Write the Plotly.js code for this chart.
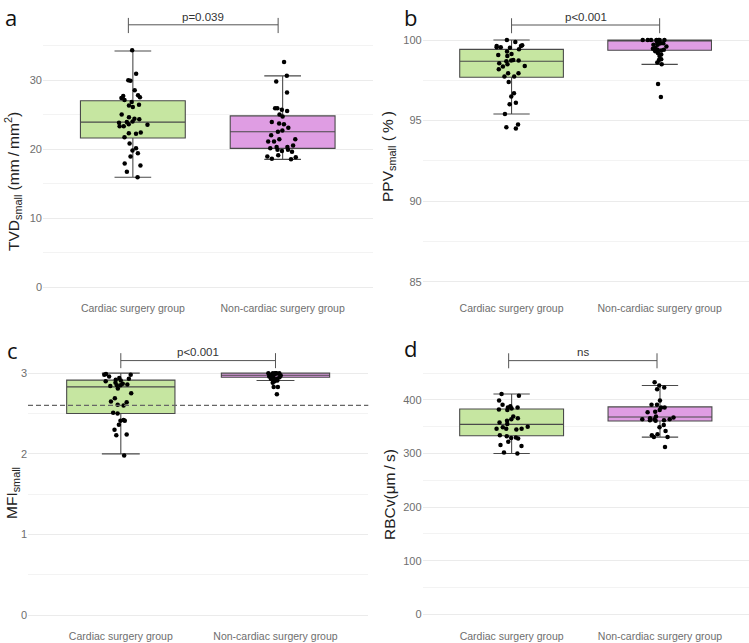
<!DOCTYPE html>
<html>
<head>
<meta charset="utf-8">
<script src="https://cdn.plot.ly/plotly-3.0.1.min.js"></script>
<style>html,body{margin:0;padding:0;background:#fff;}#chart{width:749px;height:643px;}</style>
</head>
<body>
<div id="chart"></div>
<script>
// ---------- data ----------
const groups = ['Cardiac surgery group', 'Non-cardiac surgery group'];

// panel a: TVD small (mm/mm2)
const tvdCardiac = [34.3, 30.9, 29.9, 29.95, 28.5, 27.8, 27.5, 27.7, 27.4, 27.1, 26.8, 26.4, 26.3, 26.1, 25.0, 24.6, 24.4, 24.3, 24.0, 23.9, 23.8, 23.6, 23.5, 23.3, 23.3, 22.4, 22.3, 22.2, 21.7, 20.8, 20.1, 19.8, 19.4, 18.9, 17.9, 17.6, 16.7, 15.9];
const tvdNonCardiac = [32.6, 30.6, 29.8, 28.2, 25.9, 25.9, 25.7, 25.5, 25.0, 24.7, 23.9, 23.7, 23.6, 23.1, 22.7, 22.5, 22.0, 20.5, 21.4, 21.4, 21.1, 21.1, 20.3, 20.3, 20.1, 19.9, 19.9, 19.6, 19.7, 19.1, 18.8, 18.9, 18.6, 18.5];
const tvdQ1 = [21.6, 20.1], tvdMedian = [23.9, 22.5], tvdQ3 = [27.0, 24.8], tvdLow = [15.9, 18.5], tvdHigh = [34.2, 30.6];

// panel b: PPV small (%)
const ppvCardiac = [100.0, 99.88, 99.52, 99.55, 99.63, 99.55, 99.63, 99.67, 99.42, 99.28, 99.07, 99.13, 99.0, 98.76, 98.72, 98.72, 98.68, 98.55, 98.49, 98.39, 98.35, 98.18, 97.93, 97.93, 97.73, 97.73, 97.4, 96.7, 96.49, 96.11, 96.01, 95.41, 94.75, 94.5, 94.59];
const ppvNonCardiac = [100, 100, 100, 100, 100, 100, 100, 99.9, 99.8, 99.8, 99.75, 99.8, 99.7, 99.7, 99.6, 99.5, 99.45, 99.4, 99.4, 99.35, 99.3, 99.2, 99.1, 99.0, 98.8, 98.76, 98.6, 98.49, 97.27, 96.47];
const ppvQ1 = [97.69, 99.36], ppvMedian = [98.68, 100], ppvQ3 = [99.42, 100], ppvLow = [95.41, 98.49], ppvHigh = [100, 100];

// panel c: MFI small
const mfiCardiac = [2.98, 2.98, 2.99, 2.96, 2.94, 2.93, 2.92, 2.91, 2.9, 2.88, 2.87, 2.86, 2.85, 2.85, 2.84, 2.81, 2.75, 2.69, 2.65, 2.64, 2.61, 2.6, 2.5, 2.51, 2.42, 2.41, 2.41, 2.36, 2.3, 2.24, 2.23, 1.98];
const mfiNonCardiac = [3, 3, 3, 3, 3, 3, 2.98, 2.98, 2.98, 2.97, 2.96, 2.96, 2.95, 2.94, 2.93, 2.93, 2.92, 2.92, 2.92, 2.91, 2.9, 2.88, 2.83, 2.83, 2.74];
const mfiQ1 = [2.50, 2.95], mfiMedian = [2.83, 2.975], mfiQ3 = [2.914, 3.0], mfiLow = [2.0, 2.91], mfiHigh = [3.0, 3.0];
const mfiCutoff = 2.6;

// panel d: RBCv (um/s)
const rbcCardiac = [411, 408, 399, 391, 382, 386, 384, 381, 369, 364, 361, 358, 355, 350, 349, 346, 346, 346, 345, 334, 332, 330, 328, 329, 322, 316, 314, 300, 302, 366, 386, 388];
const rbcNonCardiac = [433, 427, 423, 420, 399, 391, 386, 391, 386, 381, 378, 377, 369, 367, 366, 364, 364, 364, 362, 361, 362, 353, 349, 342, 331, 331, 334, 336, 312];
const rbcQ1 = [333, 360.6], rbcMedian = [354.4, 368], rbcQ3 = [383, 387], rbcLow = [300, 330.6], rbcHigh = [411, 427];

const yTitles = ['TVD<sub>small</sub> (mm\u2009/\u2009mm<sup>2</sup>)', 'PPV<sub>small</sub> (\u2009%\u2009)', 'MFI<sub>small</sub>', 'RBCv(\u03bcm\u2009/\u2009s)'];
const pLabels = ['p=0.039', 'p<0.001', 'p<0.001', 'ns'];
const panelLetters = ['a', 'b', 'c', 'd'];

// ---------- styling ----------
const fills = ['#c6e6a1', '#df9de3'];
const W = 749, H = 643;
const px = v => v / W, py = v => (H - v) / H;

const traces = [];
function addPanel(k, cardiac, nonCardiac, q1, med, q3, lo, hi) {
  const xa = k === 0 ? 'x' : 'x' + (k + 1);
  const ya = k === 0 ? 'y' : 'y' + (k + 1);
  for (let g = 0; g < 2; g++) {
    traces.push({
      type: 'box', xaxis: xa, yaxis: ya, x: [groups[g]],
      q1: [q1[g]], median: [med[g]], q3: [q3[g]], lowerfence: [lo[g]], upperfence: [hi[g]],
      fillcolor: fills[g], line: {color: '#4a4a4a', width: 1.1}, whiskerwidth: 0.35,
      width: 0.7, boxpoints: false, showlegend: false, hoverinfo: 'skip'
    });
  }
  [cardiac, nonCardiac].forEach((vals, g) => {
    traces.push({
      type: 'box', xaxis: xa, yaxis: ya, y: vals, x: vals.map(() => groups[g]),
      boxpoints: 'all', jitter: 0.35, pointpos: 0, width: 0.7,
      fillcolor: 'rgba(0,0,0,0)', line: {width: 0, color: 'rgba(0,0,0,0)'},
      marker: {color: '#000', size: 4.5}, showlegend: false, hoverinfo: 'skip'
    });
  });
}
addPanel(0, tvdCardiac, tvdNonCardiac, tvdQ1, tvdMedian, tvdQ3, tvdLow, tvdHigh);
addPanel(1, ppvCardiac, ppvNonCardiac, ppvQ1, ppvMedian, ppvQ3, ppvLow, ppvHigh);
addPanel(2, mfiCardiac, mfiNonCardiac, mfiQ1, mfiMedian, mfiQ3, mfiLow, mfiHigh);
addPanel(3, rbcCardiac, rbcNonCardiac, rbcQ1, rbcMedian, rbcQ3, rbcLow, rbcHigh);

const FAM = 'Liberation Sans, Arial, sans-serif';
const tickFont = {family: FAM, size: 11, color: '#6e6e6e'};
const catFont = {family: FAM, size: 10.5, color: '#6e6e6e'};
const titleFont = {family: FAM, size: 15.5, color: '#222'};

function xAxis(dom) {
  return {domain: dom, type: 'category', categoryorder: 'array', categoryarray: groups,
    range: [-0.6, 1.6], showgrid: false, zeroline: false, showline: false, ticks: '',
    tickfont: catFont, fixedrange: true};
}
function yAxis(dom, range, dtick, minor, anchor) {
  return {domain: dom, range: range, dtick: dtick, tick0: 0, anchor: anchor,
    showgrid: true, gridcolor: '#ebebeb', gridwidth: 1, zeroline: false, showline: false, ticks: '',
    minor: {dtick: minor, showgrid: true, gridcolor: '#f3f3f3', gridwidth: 1},
    tickfont: tickFont, fixedrange: true};
}
const topRow = [py(300), py(11.7)];
const botRow = [py(628), py(347.5)];

const layout = {
  width: W, height: H, margin: {l: 0, r: 0, t: 0, b: 0},
  paper_bgcolor: '#fff', plot_bgcolor: '#fff', boxmode: 'overlay', showlegend: false, hovermode: false,
  xaxis: Object.assign(xAxis([px(43), px(372.5)]), {anchor: 'y'}),
  xaxis2: Object.assign(xAxis([px(422.7), px(748.5)]), {anchor: 'y2'}),
  xaxis3: Object.assign(xAxis([px(28), px(368.3)]), {anchor: 'y3'}),
  xaxis4: Object.assign(xAxis([px(422.6), px(749)]), {anchor: 'y4'}),
  yaxis: yAxis(topRow, [-1.88, 39.9], 10, 5, 'x'),
  yaxis2: yAxis(topRow, [83.865, 101.756], 5, 2.5, 'x2'),
  yaxis3: yAxis(botRow, [-0.157, 3.318], 1, 0.5, 'x3'),
  yaxis4: yAxis(botRow, [-25.6, 497.8], 100, 50, 'x4'),
  shapes: [], annotations: []
};

// y-axis titles (rotated annotations)
const titlePos = [[13, 182], [388, 157], [12, 493], [389, 495]];
yTitles.forEach((t, k) => {
  layout.annotations.push({xref: 'paper', yref: 'paper', x: px(titlePos[k][0]), y: py(titlePos[k][1]),
    xanchor: 'center', yanchor: 'middle', textangle: -90, text: t, showarrow: false, font: titleFont});
});

// significance brackets: [line y, tick top, tick bottom, text y, x offset]
const brackets = [
  [38.0, 39.0, 36.8, 39.2, -0.03],
  [100.93, 101.35, 100.42, 101.44, 0],
  [3.156, 3.248, 3.062, 3.26, 0],
  [473.3, 487, 459, 490, -0.02]
];
brackets.forEach((b, k) => {
  const xr = k === 0 ? 'x' : 'x' + (k + 1), yr = k === 0 ? 'y' : 'y' + (k + 1);
  const ln = {color: '#555', width: 1};
  const x0 = 0 + b[4], x1 = 1 + b[4];
  layout.shapes.push({type: 'line', xref: xr, yref: yr, x0: x0, x1: x1, y0: b[0], y1: b[0], line: ln});
  layout.shapes.push({type: 'line', xref: xr, yref: yr, x0: x0, x1: x0, y0: b[2], y1: b[1], line: ln});
  layout.shapes.push({type: 'line', xref: xr, yref: yr, x0: x1, x1: x1, y0: b[2], y1: b[1], line: ln});
  layout.annotations.push({xref: xr, yref: yr, x: (x0 + x1) / 2, y: b[3], text: pLabels[k], showarrow: false,
    yanchor: 'middle', font: {family: FAM, size: 11.5, color: '#333'}});
});

// dashed cutoff line in panel c
layout.shapes.push({type: 'line', xref: 'x3 domain', yref: 'y3', x0: 0, x1: 1, y0: mfiCutoff, y1: mfiCutoff,
  line: {color: '#666', width: 1.2, dash: '5px,3px'}});

// panel letters
const letterPos = [[3, 0], [402, 0], [5, 333], [402, 331]];
panelLetters.forEach((t, k) => {
  layout.annotations.push({xref: 'paper', yref: 'paper', x: px(letterPos[k][0]), y: py(letterPos[k][1]),
    xanchor: 'left', yanchor: 'top', text: t, showarrow: false,
    font: {family: 'Open Sans, sans-serif', size: 22, color: '#111'}});
});

Plotly.newPlot('chart', traces, layout, {staticPlot: true, displayModeBar: false});
</script>
</body>
</html>
